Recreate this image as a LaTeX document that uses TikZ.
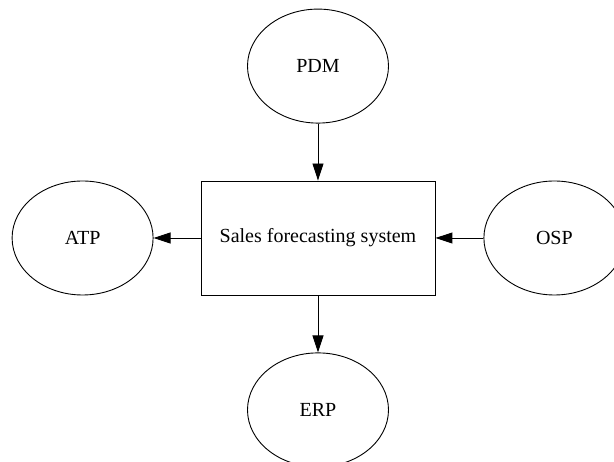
\documentclass[tikz,border=0pt]{standalone}
\usepackage{fontspec}
\setmainfont{Liberation Serif}
\usepackage{tikz}
\usetikzlibrary{shapes.geometric, arrows.meta, positioning}

\begin{document}
\begin{tikzpicture}[node distance=57pt,
    module/.style={ellipse, draw, line width=0.9pt, minimum width=141pt, minimum height=114pt, font=\fontsize{20}{24}\selectfont},
    system/.style={rectangle, draw, line width=0.9pt, minimum width=234pt, minimum height=114pt, font=\fontsize{20}{24}\selectfont},
    arrow/.style={-{Triangle[length=17pt, width=11pt]}, line width=0.9pt}]

    % page frame
    \useasboundingbox (-318pt,-224pt) rectangle (296pt,238pt);
    \clip (-318pt,-224pt) rectangle (296pt,238pt);

    % Central system
    \node[system] (forecast) at (0,0) {Sales forecasting system};

    % Surrounding modules
    \node[module, above=of forecast] (pdm) {PDM};
    \node[module, below=of forecast] (erp) {ERP};
    \node[module, left=47pt of forecast] (atp) {ATP};
    \node[module, right=48pt of forecast] (osp) {OSP};

    % Data flow arrows
    \draw[arrow] (pdm) -- (forecast);
    \draw[arrow] (forecast) -- (erp);
    \draw[arrow] (forecast) -- (atp);
    \draw[arrow] (osp) -- (forecast);

\end{tikzpicture}
\end{document}
